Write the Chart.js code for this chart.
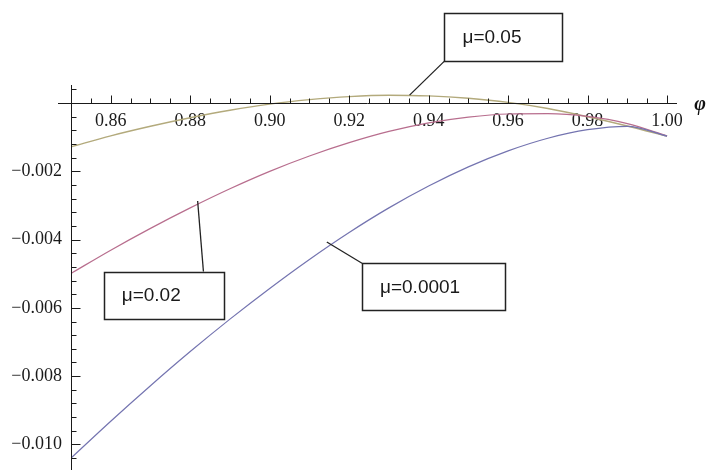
<!DOCTYPE html>
<html>
<head>
<meta charset="utf-8">
<script src="https://cdn.jsdelivr.net/npm/chart.js@4/dist/chart.umd.min.js"></script>
<style>
  html, body { margin: 0; padding: 0; background: #ffffff; }
  #wrap { width: 711px; height: 476px; }
</style>
</head>
<body>
<div id="wrap"><canvas id="c" width="711" height="476"></canvas></div>
<script>
// ---- data ----
const phiValues = [0.85, 0.86, 0.87, 0.88, 0.89, 0.90, 0.91, 0.92, 0.93, 0.94, 0.95, 0.96, 0.97, 0.98, 0.99, 1.00];
const seriesMu00001 = [-0.0104, -0.00932, -0.00828, -0.00728, -0.00633, -0.00543, -0.00458, -0.00379, -0.00307, -0.00243, -0.00187, -0.0014, -0.00103, -0.00078, -0.00068, -0.00097];
const seriesMu002   = [-0.00499, -0.00431, -0.00367, -0.00307, -0.00251, -0.002, -0.00155, -0.00116, -0.00083, -0.00058, -0.00041, -0.00032, -0.00031, -0.00039, -0.0006, -0.00096];
const seriesMu005   = [-0.00128, -0.00096, -0.00068, -0.00043, -0.00021, -0.00003, 0.0001, 0.00019, 0.00023, 0.00021, 0.00014, 0.00002, -0.00016, -0.0004, -0.00067, -0.00097];
const seriesLabels  = ['μ=0.0001', 'μ=0.02', 'μ=0.05'];
const axisLabelX = 'φ';

// callout geometry in data units (box corners, pointer start/end)
const callouts = [
  { text: seriesLabels[2], box: [0.94398, 0.002635, 0.97359, 0.00123], from: [0.94398, 0.00123], to: [0.93520, 0.000234] },
  { text: seriesLabels[1], box: [0.85823, -0.00494, 0.88834, -0.006305], from: [0.88333, -0.00494], to: [0.88187, -0.00287] },
  { text: seriesLabels[0], box: [0.92323, -0.004694, 0.95921, -0.006061], from: [0.92323, -0.004694], to: [0.91437, -0.00407] }
];

const toPts = arr => phiValues.map((x, i) => ({ x: x, y: arr[i] }));

const axesPlugin = {
  id: 'mmaAxes',
  afterDraw(chart) {
    const ctx = chart.ctx;
    const xs = chart.scales.x, ys = chart.scales.y;
    const ca = chart.chartArea;
    const y0 = Math.round(ys.getPixelForValue(0)) + 0.5;
    const x0 = Math.round(xs.getPixelForValue(xs.min)) + 0.5;
    ctx.save();
    ctx.strokeStyle = '#1a1a1a';
    ctx.lineWidth = 1;
    ctx.beginPath();
    ctx.moveTo(ca.left - 13, y0); ctx.lineTo(ca.right, y0);
    ctx.moveTo(x0, ca.top); ctx.lineTo(x0, ca.bottom);
    ctx.stroke();
    ctx.beginPath();
    for (let k = 1; k <= 40; k++) {
      const v = 0.85 + k * 0.005;
      if (v > xs.max + 1e-9) break;
      const major = Math.abs(Math.round(v * 50) - v * 50) < 1e-6;
      const px = Math.round(xs.getPixelForValue(v)) + 0.5;
      ctx.moveTo(px, y0); ctx.lineTo(px, y0 - (major ? 8 : 5));
    }
    for (let k = -30; k <= 2; k++) {
      const v = k * 0.0004;
      if (v < ys.min || v > ys.max || k === 0) continue;
      const major = (k % 5) === 0;
      const py = Math.round(ys.getPixelForValue(v)) + 0.5;
      ctx.moveTo(x0, py); ctx.lineTo(x0 + (major ? 9 : 5), py);
    }
    ctx.stroke();
    ctx.fillStyle = '#111';
    ctx.font = 'italic bold 20px "Liberation Serif"';
    ctx.textAlign = 'center';
    ctx.textBaseline = 'middle';
    ctx.fillText(axisLabelX, ca.right + 23, y0 + 1);
    callouts.forEach(c => {
      const l = xs.getPixelForValue(c.box[0]), t = ys.getPixelForValue(c.box[1]);
      const r = xs.getPixelForValue(c.box[2]), b = ys.getPixelForValue(c.box[3]);
      ctx.strokeStyle = '#222';
      ctx.lineWidth = 1.3;
      ctx.beginPath();
      ctx.moveTo(xs.getPixelForValue(c.from[0]), ys.getPixelForValue(c.from[1]));
      ctx.lineTo(xs.getPixelForValue(c.to[0]), ys.getPixelForValue(c.to[1]));
      ctx.stroke();
      ctx.fillStyle = '#ffffff';
      ctx.fillRect(l, t, r - l, b - t);
      ctx.lineWidth = 1.5;
      ctx.strokeRect(Math.round(l) + 0.5, Math.round(t) + 0.5, Math.round(r - l), Math.round(b - t));
      ctx.fillStyle = '#1a1a1a';
      ctx.font = '19px "Liberation Sans"';
      ctx.textAlign = 'left';
      ctx.textBaseline = 'middle';
      ctx.fillText(c.text, l + 18, (t + b) / 2 + 1);
    });
    ctx.restore();
  }
};

new Chart(document.getElementById('c'), {
  type: 'line',
  data: {
    datasets: [
      { label: seriesLabels[0], data: toPts(seriesMu00001), borderColor: '#7474b0', borderWidth: 1.2, pointRadius: 0, cubicInterpolationMode: 'monotone', fill: false },
      { label: seriesLabels[1], data: toPts(seriesMu002), borderColor: '#b86e8e', borderWidth: 1.2, pointRadius: 0, cubicInterpolationMode: 'monotone', fill: false },
      { label: seriesLabels[2], data: toPts(seriesMu005), borderColor: '#b3aa7c', borderWidth: 1.4, pointRadius: 0, cubicInterpolationMode: 'monotone', fill: false }
    ]
  },
  options: {
    responsive: false,
    animation: false,
    layout: { padding: { left: 0, right: 34, top: 85, bottom: 6 } },
    plugins: { legend: { display: false }, tooltip: { enabled: false } },
    scales: {
      x: {
        type: 'linear',
        position: { y: 0 },
        min: 0.85,
        max: 1.0025,
        grid: { display: false, drawTicks: false },
        border: { display: false },
        afterFit: s => { s.height = 0; s.paddingLeft = 0; s.paddingRight = 0; s.paddingTop = 0; s.paddingBottom = 0; },
        ticks: {
          stepSize: 0.02,
          includeBounds: false,
          padding: 7,
          color: '#1a1a1a',
          font: { family: '"Liberation Serif"', size: 18 },
          callback: v => v.toFixed(2)
        }
      },
      y: {
        type: 'linear',
        position: 'left',
        min: -0.01075,
        max: 0.00053,
        grid: { display: false, drawTicks: false },
        border: { display: false },
        afterFit: s => { s.width = 71; s.paddingTop = 0; s.paddingBottom = 0; s.paddingLeft = 0; s.paddingRight = 0; },
        ticks: {
          stepSize: 0.002,
          includeBounds: false,
          padding: 9,
          color: '#1a1a1a',
          font: { family: '"Liberation Serif"', size: 18 },
          callback: v => (Math.abs(v) < 1e-9 ? '' : '\u2212' + Math.abs(v).toFixed(3))
        }
      }
    }
  },
  plugins: [axesPlugin]
});
</script>
</body>
</html>
